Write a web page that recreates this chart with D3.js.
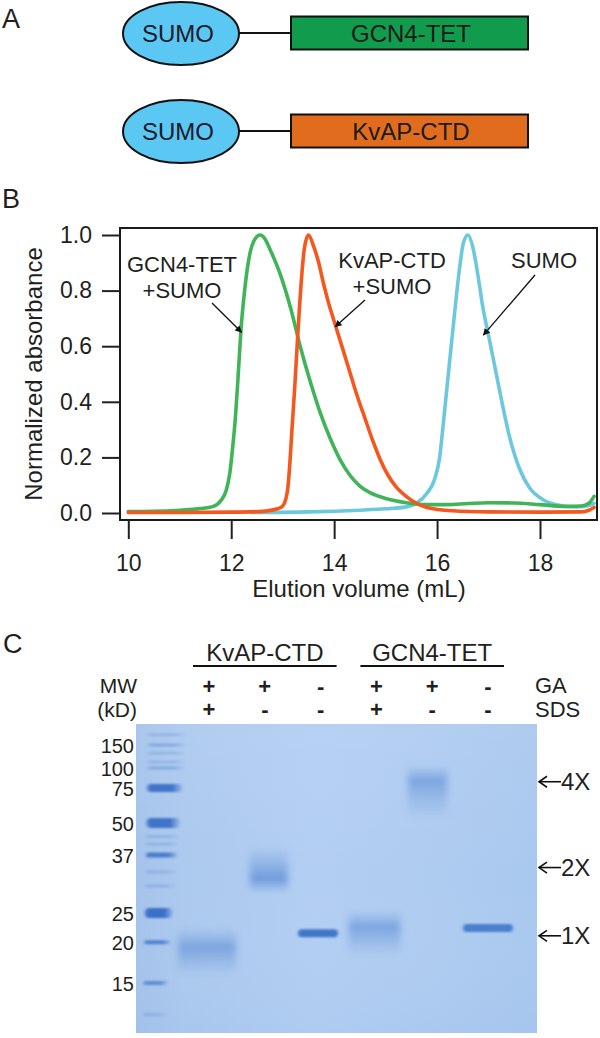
<!DOCTYPE html>
<html><head><meta charset="utf-8">
<script src="https://cdn.jsdelivr.net/npm/d3@7"></script>
<style>
body{margin:0;background:#fff}
svg{display:block}
</style>
</head><body>
<svg id="fig" width="600" height="1038"></svg>
<script>
// ================= DATA =================
// Panel A
const tagName = "SUMO";
const fusionNames = ["GCN4-TET", "KvAP-CTD"];
const fusionColors = ["#109c4c", "#e26c1e"];

// Panel B : elution profiles (volume mL, normalized absorbance)
const xTicks = [10, 12, 14, 16, 18];
const yTicks = [0, 0.2, 0.4, 0.6, 0.8, 1.0];
const gcnVol = [10.0,10.5,11.0,11.4,11.64,11.8,11.9,11.97,12.03,12.08,12.13,12.19,12.26,12.36,12.46,12.56,12.66,12.75,12.95,13.15,13.34,13.54,13.73,13.93,14.12,14.31,14.5,14.7,15.0,15.4,15.75,16.2,16.6,17.0,17.5,18.0,18.5,18.8,18.95,19.05];
const gcnAbs = [0.005,0.006,0.01,0.016,0.023,0.045,0.08,0.14,0.24,0.34,0.48,0.66,0.80,0.93,0.985,1.0,0.985,0.95,0.86,0.74,0.60,0.47,0.36,0.265,0.19,0.135,0.097,0.073,0.052,0.037,0.03,0.03,0.034,0.037,0.036,0.03,0.024,0.025,0.035,0.06];
const kvapVol = [10.0,11.0,12.0,12.6,12.9,13.0,13.06,13.1,13.14,13.18,13.23,13.29,13.36,13.42,13.5,13.6,13.7,13.8,13.9,14.0,14.1,14.2,14.3,14.45,14.6,14.75,14.9,15.05,15.2,15.4,15.6,15.8,16.3,17.0,18.0,18.8,18.95,19.05];
const kvapAbs = [0.002,0.002,0.003,0.006,0.015,0.025,0.05,0.09,0.18,0.30,0.44,0.63,0.83,0.95,1.0,0.96,0.9,0.82,0.75,0.69,0.63,0.57,0.51,0.42,0.34,0.26,0.19,0.135,0.095,0.06,0.035,0.02,0.008,0.004,0.003,0.004,0.01,0.02];
const sumoVol = [12.4,13.5,14.5,15.0,15.4,15.6,15.8,15.95,16.05,16.12,16.23,16.33,16.43,16.51,16.6,16.69,16.79,16.88,17.01,17.14,17.27,17.4,17.6,17.8,18.06,18.32,18.7,18.97,19.05];
const sumoAbs = [0.002,0.004,0.01,0.015,0.022,0.035,0.07,0.12,0.2,0.32,0.52,0.70,0.87,0.97,1.0,0.96,0.86,0.75,0.63,0.51,0.39,0.28,0.16,0.09,0.048,0.03,0.022,0.028,0.035];
const curveLabels = [["GCN4-TET","+SUMO"],["KvAP-CTD","+SUMO"],["SUMO"]];

// Panel C : SDS-PAGE gel
const ladderMW = [150, 100, 75, 50, 37, 25, 20, 15];
const ladderRf = [0.068, 0.142, 0.207, 0.320, 0.424, 0.612, 0.706, 0.838];
const ladderIntensity = [0.35, 0.35, 0.95, 0.95, 0.85, 1.0, 0.8, 0.65];
const ladderFaintMW = [180, 130, 111, 44, 41, 33, 30, 12];
const laneGroups = ["KvAP-CTD", "GCN4-TET"];
const gaRow  = ["+", "+", "-", "+", "+", "-"];
const sdsRow = ["+", "-", "-", "+", "-", "-"];
const bandTopMW    = [22.5, 40, 22.4, 25.5, 105, 23.3];
const bandPeakMW   = [19.3, 31.5, 21.4, 22.5, 84, 22.3];
const bandBottomMW = [15.8, 28.5, 20.5, 18.0, 52, 21.3];
const bandIntensity = [0.5, 0.62, 0.95, 0.5, 0.5, 0.85];
const bandSharp = [false, false, true, false, false, true];
const oligomerLabels = ["4X", "2X", "1X"];
const oligomerMW = [82, 34, 21];

// ================= STYLE =================
const FONT = '"Liberation Sans", Arial, Helvetica, sans-serif';
const INK = "#231f20";
const seriesColors = ["#41b45a", "#f4581f", "#6cc8dc"];
const ladderThick = [3, 3, 8, 10, 5, 10, 4, 4];
const bandW  = [58, 38, 40, 52, 39, 50];
const bandDx = [-2, 4, -2.6, -2, -4.7, 0];

const svg = d3.select("#fig").attr("font-family", FONT);
const defs = svg.append("defs");

function txt(x, y, s, size, anchor) {
  return svg.append("text").attr("x", x).attr("y", y).attr("font-size", size)
    .attr("text-anchor", anchor || "start").attr("fill", INK).text(s);
}

// panel letters
txt(2, 28, "A", 27);
txt(2, 208, "B", 27);
txt(3, 653, "C", 27);

// ================= PANEL A =================
const rowY = d3.scalePoint().domain(fusionNames).range([33, 131]);
fusionNames.forEach((name, i) => {
  const g = svg.append("g").attr("transform", `translate(0,${rowY(name)})`);
  g.append("line").attr("x1", 238).attr("x2", 292).attr("stroke", "#111").attr("stroke-width", 2);
  g.append("ellipse").attr("cx", 181).attr("cy", 0.5).attr("rx", 58).attr("ry", 31.5)
    .attr("fill", "#5bc8f3").attr("stroke", "#111").attr("stroke-width", 2);
  g.append("text").attr("x", 178).attr("y", 8.5).attr("font-size", 24).attr("text-anchor", "middle")
    .attr("fill", "#1a1a2a").text(tagName);
  g.append("rect").attr("x", 291).attr("y", -16.5).attr("width", 237).attr("height", 33)
    .attr("fill", fusionColors[i]).attr("stroke", "#111").attr("stroke-width", 2);
  g.append("text").attr("x", 411).attr("y", 8.5).attr("font-size", 24).attr("text-anchor", "middle")
    .attr("fill", "#1a1a1a").text(name);
});

// ================= PANEL B =================
const x = d3.scaleLinear().domain([10, 18]).range([128.3, 540]);
const y = d3.scaleLinear().domain([0, 1]).range([513, 235]);

const line = d3.line().x(d => x(d[0])).y(d => y(d[1])).curve(d3.curveMonotoneX);
const series = [
  {vol: sumoVol, abs: sumoAbs, color: seriesColors[2]},
  {vol: gcnVol, abs: gcnAbs, color: seriesColors[0]},
  {vol: kvapVol, abs: kvapAbs, color: seriesColors[1]}
];
series.forEach(s => {
  svg.append("path").datum(d3.zip(s.vol, s.abs)).attr("d", line)
    .attr("fill", "none").attr("stroke", s.color).attr("stroke-width", 3.6)
    .attr("stroke-linejoin", "round").attr("stroke-linecap", "round");
});

svg.append("rect").attr("x", 120).attr("y", 228).attr("width", 477).attr("height", 292)
  .attr("fill", "none").attr("stroke", "#1a1a1a").attr("stroke-width", 2);

const yAxis = d3.axisLeft(y).tickValues(yTicks).tickFormat(d3.format(".1f")).tickSize(18).tickPadding(10);
svg.append("g").attr("transform", "translate(120,0)").call(yAxis)
  .attr("font-size", 23).attr("font-family", FONT).style("color", INK)
  .call(g => g.select(".domain").remove())
  .call(g => g.selectAll(".tick line").attr("stroke-width", 2));

const xAxis = d3.axisBottom(x).tickValues(xTicks).tickFormat(d3.format("d")).tickSize(19).tickPadding(16);
svg.append("g").attr("transform", "translate(0,520)").call(xAxis)
  .attr("font-size", 23).attr("font-family", FONT).style("color", INK)
  .call(g => g.select(".domain").remove())
  .call(g => g.selectAll(".tick line").attr("stroke-width", 2));

txt(359, 597, "Elution volume (mL)", 24, "middle");
svg.append("text").attr("transform", "translate(42,374) rotate(-90)")
  .attr("font-size", 24).attr("text-anchor", "middle").attr("fill", INK).text("Normalized absorbance");

// curve labels
const labelPos = [[182, 272], [392, 268], [544, 268]];
curveLabels.forEach((lines, i) => {
  lines.forEach((l, j) => txt(labelPos[i][0], labelPos[i][1] + j * 25.5, l, 22, "middle"));
});
// arrows
defs.append("marker").attr("id", "ah").attr("viewBox", "0 0 10 10").attr("refX", 9).attr("refY", 5)
  .attr("markerWidth", 7).attr("markerHeight", 7).attr("markerUnits", "userSpaceOnUse").attr("orient", "auto")
  .append("path").attr("d", "M0,0 L10,5 L0,10 z").attr("fill", "#111");
const arrows = [[212, 303, x(12.2), y(0.65)], [365, 300, x(14.02), y(0.67)], [535, 275, x(16.9), y(0.64)]];
arrows.forEach(a => {
  svg.append("line").attr("x1", a[0]).attr("y1", a[1]).attr("x2", a[2]).attr("y2", a[3])
    .attr("stroke", "#111").attr("stroke-width", 1.3).attr("marker-end", "url(#ah)");
});

// ================= PANEL C =================
const gel = {x0: 136, x1: 537, y0: 724, y1: 1033};
const rf = d3.scaleLinear().domain([0, 1]).range([gel.y0, gel.y1]);
const mwY = d3.scaleLog().domain(ladderMW).range(ladderRf.map(rf));
const lane = d3.scalePoint().domain(d3.range(6)).range([209, 488]);
// ladder lane "smile": left edge and width as a function of migration
const ladL = d3.scaleLinear().domain([gel.y0, gel.y1]).range([148, 142]);
const ladW = d3.scaleLinear().domain([gel.y0, gel.y1]).range([40, 22]);

// gel background
const bg = defs.append("linearGradient").attr("id", "gelbg").attr("x1", 0).attr("x2", 1).attr("y1", 0).attr("y2", 0);
[[0, "#a5c3eb"], [0.12, "#acc9ee"], [0.45, "#b2cef2"], [0.75, "#aecbf0"], [1, "#a9c8ee"]]
  .forEach(s => bg.append("stop").attr("offset", s[0]).attr("stop-color", s[1]));
const bgv = defs.append("linearGradient").attr("id", "gelbgv").attr("x1", 0).attr("x2", 0).attr("y1", 0).attr("y2", 1);
[[0, "#ffffff", 0.06], [0.5, "#ffffff", 0.0], [1, "#6f9ad8", 0.06]]
  .forEach(s => bgv.append("stop").attr("offset", s[0]).attr("stop-color", s[1]).attr("stop-opacity", s[2]));

const f1 = defs.append("filter").attr("id", "blurSoft").attr("x", "-50%").attr("y", "-100%").attr("width", "200%").attr("height", "300%");
f1.append("feGaussianBlur").attr("stdDeviation", "3.5 2");
const f2 = defs.append("filter").attr("id", "blurSharp").attr("x", "-50%").attr("y", "-150%").attr("width", "200%").attr("height", "400%");
f2.append("feGaussianBlur").attr("stdDeviation", "1.6 1.1");
defs.append("clipPath").attr("id", "gelclip").append("rect")
  .attr("x", gel.x0).attr("y", gel.y0).attr("width", gel.x1 - gel.x0).attr("height", gel.y1 - gel.y0);

const gg = svg.append("g").attr("clip-path", "url(#gelclip)");
gg.append("rect").attr("x", gel.x0).attr("y", gel.y0).attr("width", gel.x1 - gel.x0).attr("height", gel.y1 - gel.y0).attr("fill", "url(#gelbg)");
gg.append("rect").attr("x", gel.x0).attr("y", gel.y0).attr("width", gel.x1 - gel.x0).attr("height", gel.y1 - gel.y0).attr("fill", "url(#gelbgv)");

// ladder
const lg = defs.append("linearGradient").attr("id", "ladgrad").attr("x1", 0).attr("x2", 1).attr("y1", 0).attr("y2", 0);
[[0, 0.6], [0.12, 1], [0.7, 1], [1, 0.1]].forEach(s => lg.append("stop").attr("offset", s[0]).attr("stop-color", "#3a70c8").attr("stop-opacity", s[1]));
ladderFaintMW.forEach(mw => {
  const yy = mwY(mw);
  gg.append("rect").attr("x", ladL(yy)).attr("y", yy - 1.5).attr("width", ladW(yy)).attr("height", 3)
    .attr("fill", "url(#ladgrad)").attr("opacity", 0.22).attr("filter", "url(#blurSharp)");
});
ladderMW.forEach((mw, i) => {
  const yy = mwY(mw);
  gg.append("rect").attr("x", ladL(yy)).attr("y", yy - ladderThick[i] / 2).attr("width", ladW(yy)).attr("height", ladderThick[i])
    .attr("rx", ladderThick[i] / 2).attr("fill", "url(#ladgrad)").attr("opacity", ladderIntensity[i])
    .attr("filter", "url(#blurSharp)");
});

// sample bands
bandPeakMW.forEach((pk, i) => {
  const cx = lane(i) + bandDx[i], w = bandW[i];
  if (bandSharp[i]) {
    gg.append("rect").attr("x", cx - w / 2).attr("y", mwY(pk) - 4).attr("width", w).attr("height", 8).attr("rx", 4)
      .attr("fill", "#3b72c8").attr("opacity", bandIntensity[i]).attr("filter", "url(#blurSharp)");
  } else {
    const y0 = mwY(bandTopMW[i]), y1 = mwY(bandBottomMW[i]), yp = mwY(pk);
    const fr = (yp - y0) / (y1 - y0);
    const gr = defs.append("linearGradient").attr("id", "bg" + i).attr("x1", 0).attr("x2", 0).attr("y1", 0).attr("y2", 1);
    [[0, 0], [fr * 0.5, 0.45], [fr, 1], [(1 + fr) / 2, 0.45], [1, 0]].forEach(s =>
      gr.append("stop").attr("offset", s[0]).attr("stop-color", "#4a7fcf").attr("stop-opacity", s[1] * bandIntensity[i]));
    gg.append("rect").attr("x", cx - w / 2).attr("y", y0).attr("width", w).attr("height", y1 - y0)
      .attr("fill", `url(#bg${i})`).attr("filter", "url(#blurSoft)");
  }
});

// MW labels
txt(137, 693, "MW", 21, "end");
txt(137, 717, "(kD)", 21, "end");
ladderMW.forEach(mw => txt(134, mwY(mw) + 8, mw, 20, "end"));

// headers
laneGroups.forEach((name, gi) => {
  const a = lane(gi * 3), b = lane(gi * 3 + 2);
  txt((a + b) / 2, 661, name, 24, "middle");
  svg.append("line").attr("x1", a - 16).attr("x2", b + 16).attr("y1", 666).attr("y2", 666)
    .attr("stroke", "#111").attr("stroke-width", 2);
});
gaRow.forEach((s, i) => txt(lane(i), 694, s, 22, "middle").attr("font-weight", "bold"));
sdsRow.forEach((s, i) => txt(lane(i), 717, s, 22, "middle").attr("font-weight", "bold"));
txt(535, 693, "GA", 22);
txt(535, 717, "SDS", 22);

// oligomer arrows
oligomerLabels.forEach((lab, i) => {
  const yy = mwY(oligomerMW[i]);
  const g = svg.append("g").attr("transform", `translate(0,${yy})`);
  g.append("line").attr("x1", 539).attr("x2", 561).attr("stroke", "#111").attr("stroke-width", 1.6);
  g.append("path").attr("d", "M547,-5.5 L539,0 L547,5.5").attr("fill", "none").attr("stroke", "#111").attr("stroke-width", 1.6);
  g.append("text").attr("x", 561).attr("y", 8.5).attr("font-size", 24).attr("fill", INK).text(lab);
});
</script>
</body></html>
